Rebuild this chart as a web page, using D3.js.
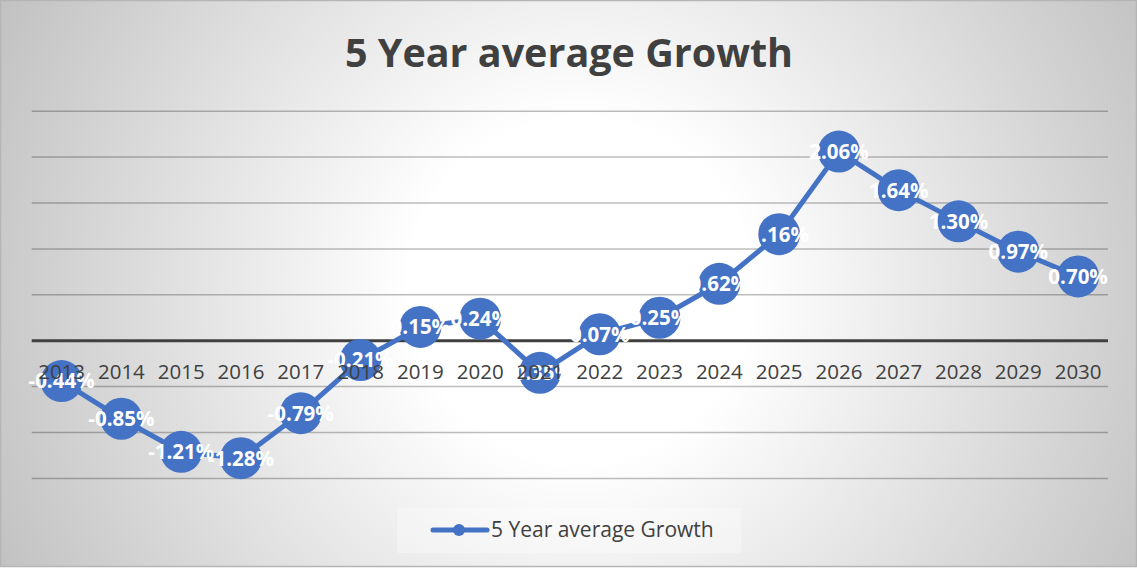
<!DOCTYPE html>
<html>
<head>
<meta charset="utf-8">
<script src="https://cdn.jsdelivr.net/npm/d3@7"></script>
<style>
  html, body { margin: 0; padding: 0; background: #fff; }
  svg { display: block; font-family: 'Open Sans', sans-serif; }
</style>
</head>
<body>
<div id="chart"></div>
<script>
const years = ['2013', '2014', '2015', '2016', '2017', '2018', '2019', '2020', '2021',
  '2022', '2023', '2024', '2025', '2026', '2027', '2028', '2029', '2030'];
const growth = [-0.44, -0.85, -1.21, -1.28, -0.79, -0.21, 0.15, 0.24, -0.35,
  0.07, 0.25, 0.62, 1.16, 2.06, 1.64, 1.30, 0.97, 0.70];
const gridTicks = [-1.5, -1, -0.5, 0.5, 1, 1.5, 2, 2.5];
const seriesName = '5 Year average Growth';

const width = 1137;
const height = 570;
const blue = '#4472c4';
const textGrey = '#404040';

const points = years.map((year, i) => [year, growth[i]]);

const svg = d3.select('#chart').append('svg')
  .attr('width', width)
  .attr('height', height);

const grad = svg.append('defs').append('radialGradient')
  .attr('id', 'bg')
  .attr('gradientUnits', 'userSpaceOnUse')
  .attr('cx', 580)
  .attr('cy', 290)
  .attr('r', 680);
grad.append('stop').attr('offset', 0).attr('stop-color', '#ffffff');
grad.append('stop').attr('offset', 0.25).attr('stop-color', '#ffffff');
grad.append('stop').attr('offset', 1).attr('stop-color', '#bdbdbd');

svg.append('rect')
  .attr('x', 0.5)
  .attr('y', 0.5)
  .attr('width', width - 1)
  .attr('height', height - 4)
  .attr('fill', 'url(#bg)')
  .attr('stroke', '#b5b5b5')
  .attr('stroke-width', 1.5);

const x = d3.scaleBand()
  .domain(years)
  .range([31.7, 1108]);

const y = d3.scaleLinear()
  .domain([-1.5, 2.5])
  .range([478.4, 111.2]);

const cx = d => x(d) + x.bandwidth() / 2;

// gridlines
svg.append('g')
  .selectAll('line')
  .data(gridTicks)
  .enter()
  .append('line')
  .attr('x1', x.range()[0])
  .attr('x2', x.range()[1])
  .attr('y1', d => y(d))
  .attr('y2', d => y(d))
  .attr('stroke', 'rgba(0,0,0,0.26)')
  .attr('stroke-width', 1.5);

// zero line
svg.append('line')
  .attr('x1', x.range()[0])
  .attr('x2', x.range()[1])
  .attr('y1', y(0))
  .attr('y2', y(0))
  .attr('stroke', textGrey)
  .attr('stroke-width', 3);

// title
svg.append('text')
  .attr('x', 569)
  .attr('y', 67)
  .attr('text-anchor', 'middle')
  .attr('fill', textGrey)
  .style('font-size', '39.5px')
  .style('font-weight', 700)
  .text(seriesName);

const line = d3.line()
  .x(d => cx(d[0]))
  .y(d => y(d[1]));

svg.append('path')
  .datum(points)
  .attr('d', line)
  .attr('fill', 'none')
  .attr('stroke', blue)
  .attr('stroke-width', 5)
  .attr('stroke-linejoin', 'round');

svg.selectAll('.dot')
  .data(points)
  .enter()
  .append('circle')
  .attr('class', 'dot')
  .attr('cx', d => cx(d[0]))
  .attr('cy', d => y(d[1]))
  .attr('r', 21)
  .attr('fill', blue);

svg.selectAll('.value-label')
  .data(points)
  .enter()
  .append('text')
  .attr('class', 'value-label')
  .attr('x', d => cx(d[0]))
  .attr('y', d => y(d[1]))
  .attr('dy', '0.36em')
  .attr('text-anchor', 'middle')
  .attr('fill', '#ffffff')
  .style('font-size', '20.5px')
  .style('font-weight', 700)
  .text(d => `${d[1].toFixed(2)}%`);

// category axis on the zero line
const xAxis = svg.append('g')
  .attr('transform', `translate(0,${y(0)})`)
  .call(d3.axisBottom(x).tickSize(0).tickPadding(24));
xAxis.select('.domain').remove();
xAxis.selectAll('text')
  .attr('fill', textGrey)
  .style('font-family', "'Open Sans', sans-serif")
  .style('font-size', '20.5px');

// legend
const legend = svg.append('g');
legend.append('rect')
  .attr('x', 397)
  .attr('y', 508)
  .attr('width', 344)
  .attr('height', 45)
  .attr('fill', 'rgba(255,255,255,0.3)');
legend.append('line')
  .attr('x1', 433)
  .attr('x2', 487)
  .attr('y1', 530)
  .attr('y2', 530)
  .attr('stroke', blue)
  .attr('stroke-width', 5)
  .attr('stroke-linecap', 'round');
legend.append('circle')
  .attr('cx', 459)
  .attr('cy', 530)
  .attr('r', 6)
  .attr('fill', blue);
legend.append('text')
  .attr('x', 491)
  .attr('y', 537)
  .attr('fill', textGrey)
  .style('font-size', '21px')
  .text(seriesName);
</script>
</body>
</html>
